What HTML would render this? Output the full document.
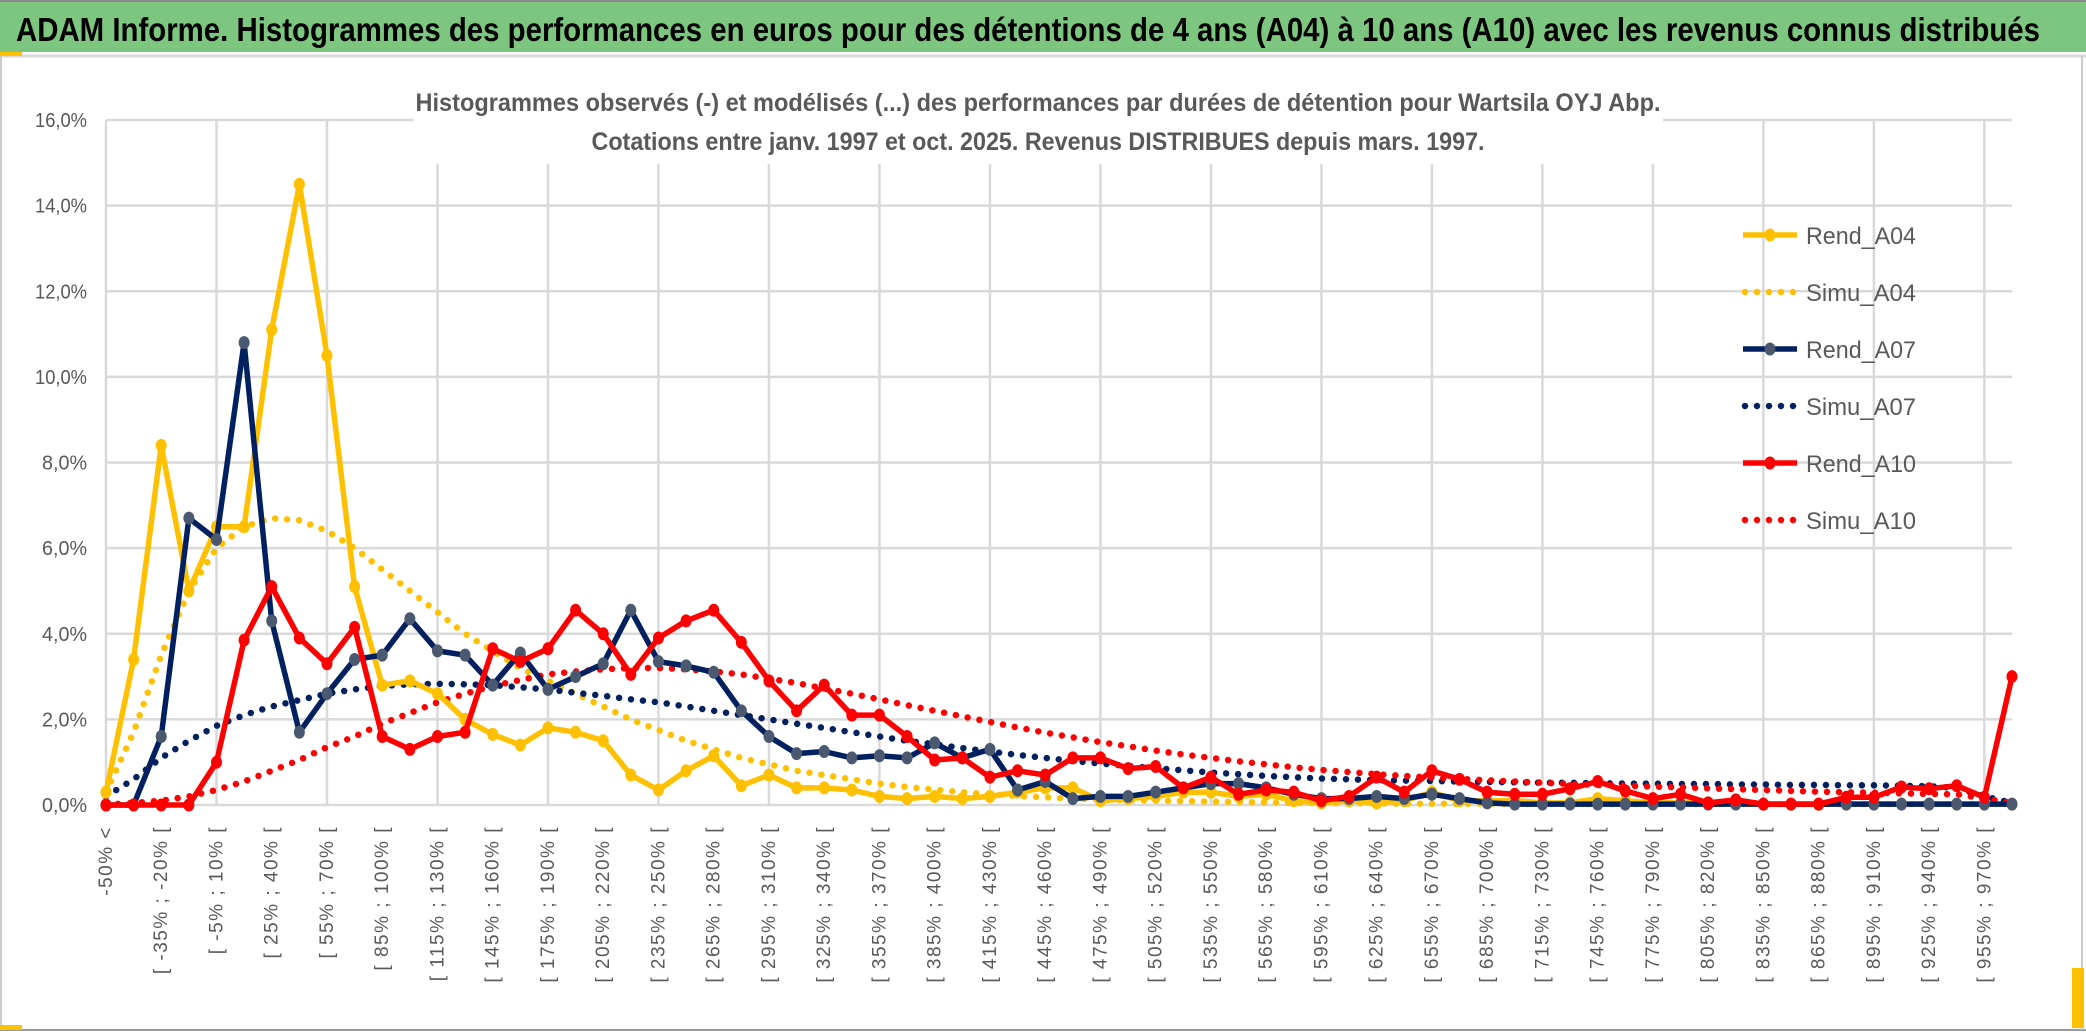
<!DOCTYPE html>
<html><head><meta charset="utf-8"><style>
html,body{margin:0;padding:0;background:#fff;width:2086px;height:1033px;overflow:hidden}
svg{display:block;font-family:"Liberation Sans",sans-serif}
</style></head><body>
<svg id="chart" width="2086" height="1033" viewBox="0 0 2086 1033" xmlns="http://www.w3.org/2000/svg">
<rect x="0" y="0" width="2086" height="1033" fill="#fff"/>
<rect x="0" y="2" width="2086" height="50" fill="#7DC67F"/>
<line x1="0" y1="1" x2="2086" y2="1" stroke="#888" stroke-width="2"/>
<line x1="0" y1="56" x2="2086" y2="56" stroke="#d9d9d9" stroke-width="3"/>
<rect x="0" y="52" width="22" height="4" fill="#FFC000"/>
<text x="16" y="41" font-size="33" font-weight="bold" fill="#000" textLength="2024" lengthAdjust="spacingAndGlyphs">ADAM Informe. Histogrammes des performances en euros pour des détentions de 4 ans (A04) à 10 ans (A10) avec les revenus connus distribués</text>
<line x1="0" y1="1030" x2="2086" y2="1030" stroke="#999" stroke-width="2"/>
<line x1="1" y1="56" x2="1" y2="1030" stroke="#ccc" stroke-width="2"/>
<line x1="2082" y1="56" x2="2082" y2="1030" stroke="#ccc" stroke-width="2"/>
<rect x="2072" y="968" width="12" height="60" fill="#FFC000"/>
<rect x="0" y="1025" width="22" height="5" fill="#FFC000"/>
<g id="grid"></g>
<g id="axes"></g>
<rect x="413" y="82" width="1250" height="82" fill="#fff"/>
<text x="1038" y="111" font-size="25" font-weight="bold" fill="#595959" text-anchor="middle" textLength="1245" lengthAdjust="spacingAndGlyphs">Histogrammes observés (-) et modélisés (...) des performances par durées de détention pour Wartsila OYJ Abp.</text>
<text x="1038" y="150" font-size="25" font-weight="bold" fill="#595959" text-anchor="middle" textLength="893" lengthAdjust="spacingAndGlyphs">Cotations entre janv. 1997 et oct. 2025. Revenus DISTRIBUES depuis mars. 1997.</text>
<g id="series"></g>
<g id="legend"></g>
</svg>
<script>
const categories = ["-50% <","[ -50% ; -35% [","[ -35% ; -20% [","[ -20% ; -5% [","[ -5% ; 10% [","[ 10% ; 25% [","[ 25% ; 40% [","[ 40% ; 55% [","[ 55% ; 70% [","[ 70% ; 85% [","[ 85% ; 100% [","[ 100% ; 115% [","[ 115% ; 130% [","[ 130% ; 145% [","[ 145% ; 160% [","[ 160% ; 175% [","[ 175% ; 190% [","[ 190% ; 205% [","[ 205% ; 220% [","[ 220% ; 235% [","[ 235% ; 250% [","[ 250% ; 265% [","[ 265% ; 280% [","[ 280% ; 295% [","[ 295% ; 310% [","[ 310% ; 325% [","[ 325% ; 340% [","[ 340% ; 355% [","[ 355% ; 370% [","[ 370% ; 385% [","[ 385% ; 400% [","[ 400% ; 415% [","[ 415% ; 430% [","[ 430% ; 445% [","[ 445% ; 460% [","[ 460% ; 475% [","[ 475% ; 490% [","[ 490% ; 505% [","[ 505% ; 520% [","[ 520% ; 535% [","[ 535% ; 550% [","[ 550% ; 565% [","[ 565% ; 580% [","[ 580% ; 595% [","[ 595% ; 610% [","[ 610% ; 625% [","[ 625% ; 640% [","[ 640% ; 655% [","[ 655% ; 670% [","[ 670% ; 685% [","[ 685% ; 700% [","[ 700% ; 715% [","[ 715% ; 730% [","[ 730% ; 745% [","[ 745% ; 760% [","[ 760% ; 775% [","[ 775% ; 790% [","[ 790% ; 805% [","[ 805% ; 820% [","[ 820% ; 835% [","[ 835% ; 850% [","[ 850% ; 865% [","[ 865% ; 880% [","[ 880% ; 895% [","[ 895% ; 910% [","[ 910% ; 925% [","[ 925% ; 940% [","[ 940% ; 955% [","[ 955% ; 970% [","> 970%"];
const yTicks = [0,2,4,6,8,10,12,14,16];
const yTickLabels = ["0,0%","2,0%","4,0%","6,0%","8,0%","10,0%","12,0%","14,0%","16,0%"];
const rendA04 = [0.3,3.4,8.4,5.0,6.5,6.5,11.1,14.5,10.5,5.1,2.8,2.9,2.6,2.0,1.65,1.4,1.8,1.7,1.5,0.7,0.35,0.8,1.15,0.45,0.7,0.4,0.4,0.35,0.2,0.15,0.2,0.15,0.2,0.3,0.4,0.4,0.1,0.15,0.2,0.3,0.3,0.2,0.25,0.1,0.05,0.1,0.05,0.1,0.3,0.1,0.1,0.1,0.05,0.05,0.15,0.1,0.05,0.05,0.05,0.05,0.02,0.02,0.02,0.02,0.02,0.02,0.02,0.02,0.02,0.02];
const simuA04 = [0.3,1.7,3.5,5.0,6.0,6.5,6.7,6.65,6.4,6.0,5.5,5.0,4.5,4.0,3.6,3.2,2.9,2.6,2.3,2.0,1.75,1.5,1.3,1.1,0.95,0.8,0.7,0.6,0.5,0.42,0.36,0.3,0.25,0.21,0.18,0.15,0.13,0.11,0.1,0.09,0.08,0.07,0.06,0.05,0.05,0.04,0.04,0.03,0.03,0.03,0.03,0.02,0.02,0.02,0.02,0.02,0.02,0.02,0.02,0.02,0.02,0.02,0.02,0.02,0.02,0.02,0.02,0.02,0.02,0.02];
const rendA07 = [0,0,1.6,6.7,6.2,10.8,4.3,1.7,2.6,3.4,3.5,4.35,3.6,3.5,2.8,3.55,2.7,3.0,3.3,4.55,3.35,3.25,3.1,2.2,1.6,1.2,1.25,1.1,1.15,1.1,1.45,1.1,1.3,0.35,0.55,0.15,0.2,0.2,0.3,0.4,0.5,0.5,0.4,0.25,0.15,0.15,0.2,0.15,0.25,0.15,0.05,0.02,0.02,0.02,0.02,0.02,0.02,0.02,0.02,0.02,0.02,0.02,0.02,0.02,0.02,0.02,0.02,0.02,0.02,0.02];
const simuA07 = [0.2,0.6,1.1,1.5,1.85,2.1,2.3,2.45,2.6,2.7,2.78,2.82,2.83,2.82,2.8,2.75,2.7,2.62,2.55,2.47,2.4,2.3,2.2,2.1,2.0,1.9,1.8,1.7,1.6,1.5,1.42,1.33,1.25,1.17,1.1,1.03,0.97,0.91,0.86,0.81,0.76,0.72,0.68,0.65,0.62,0.6,0.58,0.57,0.56,0.55,0.54,0.53,0.52,0.52,0.51,0.5,0.5,0.49,0.49,0.48,0.48,0.47,0.47,0.46,0.46,0.45,0.44,0.4,0.2,0.05];
const rendA10 = [0,0,0,0,1.0,3.85,5.1,3.9,3.3,4.15,1.6,1.3,1.6,1.7,3.65,3.35,3.65,4.55,4.0,3.05,3.9,4.3,4.55,3.8,2.9,2.2,2.8,2.1,2.1,1.6,1.05,1.1,0.65,0.8,0.7,1.1,1.1,0.85,0.9,0.4,0.65,0.25,0.35,0.3,0.1,0.2,0.65,0.3,0.8,0.6,0.3,0.25,0.25,0.38,0.55,0.33,0.15,0.25,0.05,0.12,0.02,0.02,0.02,0.18,0.18,0.42,0.38,0.45,0.18,3.0];
const simuA10 = [0.01,0.05,0.1,0.2,0.35,0.55,0.8,1.05,1.35,1.6,1.9,2.15,2.4,2.6,2.78,2.92,3.05,3.12,3.17,3.2,3.2,3.17,3.12,3.05,2.95,2.85,2.72,2.6,2.47,2.33,2.2,2.07,1.94,1.81,1.69,1.58,1.47,1.37,1.27,1.18,1.1,1.02,0.95,0.88,0.82,0.77,0.72,0.68,0.64,0.61,0.58,0.55,0.52,0.49,0.47,0.45,0.43,0.41,0.39,0.37,0.35,0.33,0.31,0.3,0.29,0.27,0.26,0.25,0.15,0.05];
const seriesNames = ["Rend_A04","Simu_A04","Rend_A07","Simu_A07","Rend_A10","Simu_A10"];

const NS = "http://www.w3.org/2000/svg";
const X0 = 106, X1 = 2012, Y0 = 805, Y1 = 120, YMAX = 16;
function xPos(i){ return X0 + i * (X1 - X0) / (categories.length - 1); }
function yPos(v){ return Y0 - v / YMAX * (Y0 - Y1); }
function mk(tag, attrs, parent){ const e = document.createElementNS(NS, tag); for (const k in attrs) e.setAttribute(k, attrs[k]); parent.appendChild(e); return e; }

const grid = document.getElementById('grid');
const axes = document.getElementById('axes');
yTicks.forEach((t, i) => {
  const g = mk('line', {x1: X0, x2: X1, y1: yPos(t), y2: yPos(t), stroke: '#d9d9d9', 'stroke-width': 2.5}, grid);
  
  
  const tl = mk('text', {x: 87, y: yPos(t) + 7, 'font-size': 20, fill: '#595959', 'text-anchor': 'end', textLength: yTickLabels[i].length > 4 ? 52 : 45, lengthAdjust: 'spacingAndGlyphs'}, axes);
  tl.textContent = yTickLabels[i];
  
  
});
categories.forEach((c, i) => {
  if (i % 4 === 0) {
    const g = mk('line', {x1: xPos(i), x2: xPos(i), y1: Y1, y2: Y0, stroke: '#d9d9d9', 'stroke-width': 2.5}, grid);
    
    
  }
  if (i % 2 === 0) {
    const x = xPos(i) + 6, y = 826;
    const t = mk('text', {x: x, y: y, 'font-size': 19, fill: '#595959', 'text-anchor': 'end', 'letter-spacing': '1.5', transform: 'rotate(-90 ' + x + ' ' + y + ')'}, axes);
    t.textContent = c;
    
    
  }
});

const seriesG = document.getElementById('series');
function drawSeries(vals, color, marker, dotted, name) {
  const pts = vals.map((v, i) => xPos(i).toFixed(1) + ',' + yPos(v).toFixed(1)).join(' ');
  const attrs = dotted ? {points: pts, fill: 'none', stroke: color, 'stroke-width': 6.5, 'stroke-linecap': 'round', 'stroke-dasharray': '0 12'} : {points: pts, fill: 'none', stroke: color, 'stroke-width': 5.5, 'stroke-linejoin': 'round'};
  const pl = mk('polyline', attrs, seriesG);
  
  
  if (!dotted) {
    vals.forEach((v, i) => {
      const c = mk('ellipse', {cx: xPos(i), cy: yPos(v), rx: 5.5, ry: 6.5, fill: marker}, seriesG);
      
      
    });
  }
}
drawSeries(simuA04, '#FFC000', '#FFC000', true, 'simu-a04');
drawSeries(simuA07, '#002060', '#002060', true, 'simu-a07');
drawSeries(simuA10, '#FF0000', '#FF0000', true, 'simu-a10');
drawSeries(rendA04, '#FFC000', '#FFC000', false, 'rend-a04');
drawSeries(rendA07, '#002060', '#4A5970', false, 'rend-a07');
drawSeries(rendA10, '#FF0000', '#FF0000', false, 'rend-a10');

const leg = document.getElementById('legend');
const legColors = ['#FFC000','#FFC000','#002060','#002060','#FF0000','#FF0000'];
const legMarker = ['#FFC000','#FFC000','#4A5970','#4A5970','#FF0000','#FF0000'];
seriesNames.forEach((n, i) => {
  const y = 235 + i * 57;
  const dotted = n.startsWith('Simu');
  const l = mk('line', dotted ? {x1: 1745, x2: 1796, y1: y, y2: y, stroke: legColors[i], 'stroke-width': 6.5, 'stroke-linecap': 'round', 'stroke-dasharray': '0 12'} : {x1: 1743, x2: 1797, y1: y, y2: y, stroke: legColors[i], 'stroke-width': 5.5}, leg);
  
  
  if (!dotted) {
    const m = mk('ellipse', {cx: 1770, cy: y, rx: 5.5, ry: 6.5, fill: legMarker[i]}, leg);
    
    
  }
  const t = mk('text', {x: 1806, y: y + 9, 'font-size': 24, fill: '#595959', textLength: 110, lengthAdjust: 'spacingAndGlyphs'}, leg);
  t.textContent = n;
  
  
});
</script>
</body></html>
